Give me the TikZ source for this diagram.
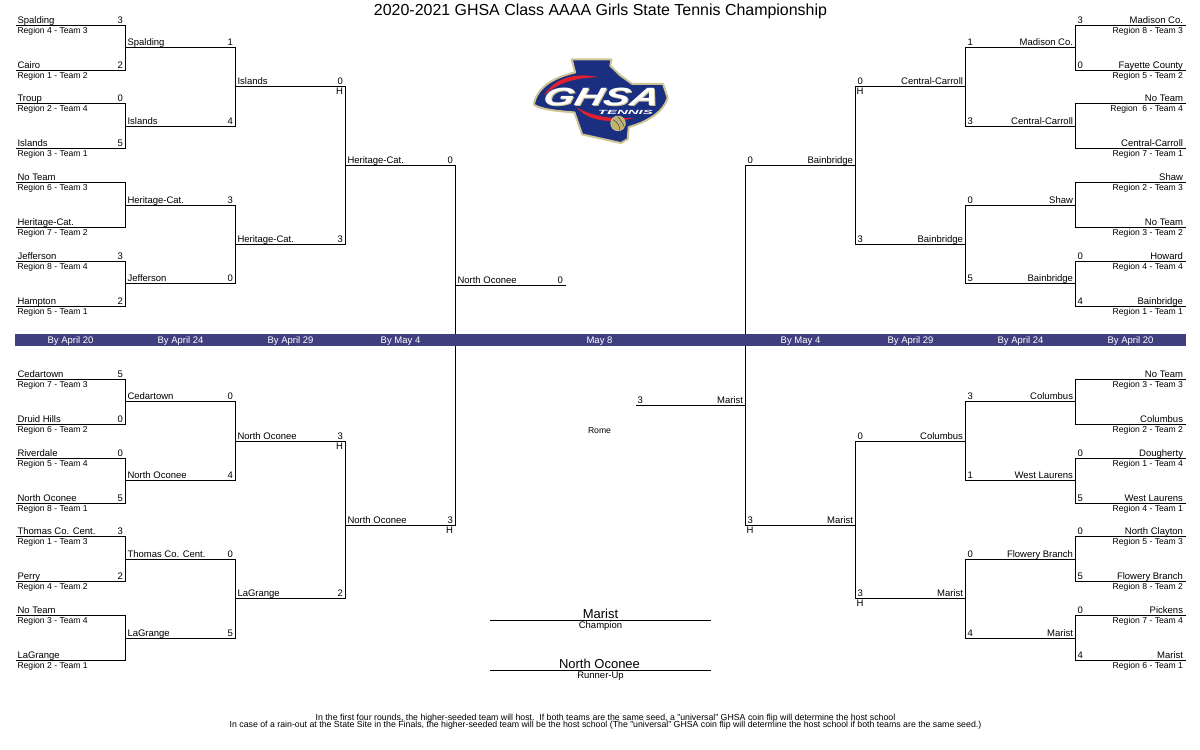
\documentclass[tikz,border=0pt]{standalone}
\usepackage{fontspec}
\setmainfont{Liberation Sans}
\usepackage{tikz}

\definecolor{barblue}{HTML}{3F3F7F}
\definecolor{logoblue}{HTML}{1B2F80}
\definecolor{logogold}{HTML}{CFC493}
\definecolor{logoball}{HTML}{C2B36B}
\definecolor{logored}{HTML}{E02030}

\tikzset{
    every node/.style={inner sep=0pt, font=\fontsize{9.5}{10}\selectfont},
    tmleft/.style={anchor=base west, xshift=1.5pt, yshift=2.5pt},
    rgleft/.style={anchor=base west, xshift=1.5pt, yshift=-7.5pt, font=\fontsize{8.6}{10}\selectfont},
    scleft/.style={anchor=base east, xshift=-2pt, yshift=2.5pt},
    tmright/.style={anchor=base east, xshift=-2pt, yshift=2.5pt},
    rgright/.style={anchor=base east, xshift=-2pt, yshift=-7.5pt, font=\fontsize{8.6}{10}\selectfont},
    scright/.style={anchor=base west, xshift=1.5pt, yshift=2.5pt},
    hostmark/.style={anchor=base},
    datetext/.style={anchor=base, text=white},
    bracket/.style={line width=1pt},
}

\begin{document}
\begin{tikzpicture}[x=1pt, y=-1pt, bracket]
\useasboundingbox (0,0) rectangle (1200,750);

\begin{scope}[shift={(0.5,0.5)}]

    \node[anchor=base, font=\fontsize{15.95}{18}\selectfont] (title) at (600,15) {2020-2021 GHSA Class AAAA Girls State Tennis Championship};

% left side, first round
\foreach \nm/\yy/\tm/\rg/\sc in {
    la1/25/Spalding/Region 4 - Team 3/3, la2/70/Cairo/Region 1 - Team 2/2,
    la3/103/Troup/Region 2 - Team 4/0, la4/148/Islands/Region 3 - Team 1/5,
    la5/182/No Team/Region 6 - Team 3/{}, la6/227/Heritage-Cat./Region 7 - Team 2/{},
    la7/261/Jefferson/Region 8 - Team 4/3, la8/306/Hampton/Region 5 - Team 1/2,
    la9/379/Cedartown/Region 7 - Team 3/5, la10/424/Druid Hills/Region 6 - Team 2/0,
    la11/458/Riverdale/Region 5 - Team 4/0, la12/503/North Oconee/Region 8 - Team 1/5,
    la13/536/Thomas Co. Cent./Region 1 - Team 3/3, la14/581/Perry/Region 4 - Team 2/2,
    la15/615/No Team/Region 3 - Team 4/{}, la16/660/LaGrange/Region 2 - Team 1/{}}{
    \coordinate (\nm) at (15,\yy);
    \node[tmleft] (\nm t) at (\nm) {\tm};
    \node[rgleft] (\nm r) at (\nm) {\rg};
    \node[scleft] (\nm s) at (125,\yy) {\sc};
}

% left side, later rounds
\foreach \nm/\xx/\yy/\tm/\sc in {
    lb1/125/47/Spalding/1, lb2/125/126/Islands/4,
    lb3/125/205/Heritage-Cat./3, lb4/125/283/Jefferson/0,
    lb5/125/401/Cedartown/0, lb6/125/480/North Oconee/4,
    lb7/125/559/Thomas Co. Cent./0, lb8/125/638/LaGrange/5,
    lc1/235/86/Islands/0, lc2/235/244/Heritage-Cat./3,
    lc3/235/441/North Oconee/3, lc4/235/598/LaGrange/2,
    ld1/345/165/Heritage-Cat./0, ld2/345/525/North Oconee/3,
    lf/455/285/North Oconee/0}{
    \coordinate (\nm) at (\xx,\yy);
    \node[tmleft, yshift=-0.7pt] (\nm t) at (\nm) {\tm};
    \node[scleft, yshift=-0.7pt] (\nm s) at (\xx+110,\yy) {\sc};
}

% right side, first round
\foreach \nm/\yy/\tm/\rg/\sc in {
    ra1/25/Madison Co./Region 8 - Team 3/3, ra2/70/Fayette County/Region 5 - Team 2/0,
    ra3/103/No Team/Region\ \ 6 - Team 4/{}, ra4/148/Central-Carroll/Region 7 - Team 1/{},
    ra5/182/Shaw/Region 2 - Team 3/{}, ra6/227/No Team/Region 3 - Team 2/{},
    ra7/261/Howard/Region 4 - Team 4/0, ra8/306/Bainbridge/Region 1 - Team 1/4,
    ra9/379/No Team/Region 3 - Team 3/{}, ra10/424/Columbus/Region 2 - Team 2/{},
    ra11/458/Dougherty/Region 1 - Team 4/0, ra12/503/West Laurens/Region 4 - Team 1/5,
    ra13/536/North Clayton/Region 5 - Team 3/0, ra14/581/Flowery Branch/Region 8 - Team 2/5,
    ra15/615/Pickens/Region 7 - Team 4/0, ra16/660/Marist/Region 6 - Team 1/4}{
    \coordinate (\nm) at (1185,\yy);
    \node[tmright] (\nm t) at (\nm) {\tm};
    \node[rgright] (\nm r) at (\nm) {\rg};
    \node[scright] (\nm s) at (1075,\yy) {\sc};
}

% right side, later rounds
\foreach \nm/\xx/\yy/\tm/\sc in {
    rb1/1075/47/Madison Co./1, rb2/1075/126/Central-Carroll/3,
    rb3/1075/205/Shaw/0, rb4/1075/283/Bainbridge/5,
    rb5/1075/401/Columbus/3, rb6/1075/480/West Laurens/1,
    rb7/1075/559/Flowery Branch/0, rb8/1075/638/Marist/4,
    rc1/965/86/Central-Carroll/0, rc2/965/244/Bainbridge/3,
    rc3/965/441/Columbus/0, rc4/965/598/Marist/3,
    rd1/855/165/Bainbridge/0, rd2/855/525/Marist/3,
    rf/745/405/Marist/3}{
    \coordinate (\nm) at (\xx,\yy);
    \node[tmright, yshift=-0.7pt] (\nm t) at (\nm) {\tm};
    \node[scright, yshift=-0.7pt] (\nm s) at (\xx-110,\yy) {\sc};
}

    \coordinate (lfe) at (565,285);
    \coordinate (rfe) at (635,405);

\foreach \p/\q/\n in {
    la1/la2/lb1, la3/la4/lb2, la5/la6/lb3, la7/la8/lb4,
    la9/la10/lb5, la11/la12/lb6, la13/la14/lb7, la15/la16/lb8,
    lb1/lb2/lc1, lb3/lb4/lc2, lb5/lb6/lc3, lb7/lb8/lc4,
    lc1/lc2/ld1, lc3/lc4/ld2, ld1/ld2/lf,
    ra1/ra2/rb1, ra3/ra4/rb2, ra5/ra6/rb3, ra7/ra8/rb4,
    ra9/ra10/rb5, ra11/ra12/rb6, ra13/ra14/rb7, ra15/ra16/rb8,
    rb1/rb2/rc1, rb3/rb4/rc2, rb5/rb6/rc3, rb7/rb8/rc4,
    rc1/rc2/rd1, rc3/rc4/rd2, rd1/rd2/rf}{
    \draw (\p) -| (\n) |- (\q);
}
    \draw (lf) -- (lfe);
    \draw (rf) -- (rfe);

% host marks
    \node[hostmark] (hl1) at (339,94) {H};
    \node[hostmark] (hl2) at (339,449) {H};
    \node[hostmark] (hl3) at (449,533) {H};
    \node[hostmark] (hr1) at (859.5,94) {H};
    \node[hostmark] (hr2) at (859.5,606) {H};
    \node[hostmark] (hr3) at (749.5,533) {H};

% date bar
    \fill[barblue] (14.5,333) rectangle (1185.5,345.5);
\foreach \xx/\dt [count=\k] in {70/By April 20, 180/By April 24, 290/By April 29, 400/By May 4,
    599/May 8, 800/By May 4, 910/By April 29, 1020/By April 24, 1130/By April 20}{
    \node[datetext] (date\k) at (\xx,342.5) {\dt};
}

    \node[anchor=base, font=\fontsize{8.6}{10}\selectfont] (site) at (599,433) {Rome};

% champion and runner-up
    \coordinate (chl) at (489.5,620);
    \coordinate (chr) at (710.5,620);
    \coordinate (rul) at (489.5,670);
    \coordinate (rur) at (710.5,670);
    \draw (chl) -- (chr);
    \draw (rul) -- (rur);
    \node[anchor=base, font=\fontsize{13}{14}\selectfont] (champ) at (600,618) {Marist};
    \node[anchor=base, font=\fontsize{9.5}{10}\selectfont] (champlab) at (600,628) {Champion};
    \node[anchor=base, font=\fontsize{13}{14}\selectfont] (runner) at (599,668) {North Oconee};
    \node[anchor=base, font=\fontsize{9.5}{10}\selectfont] (runnerlab) at (600,678) {Runner-Up};

% footer
    \node[anchor=base, font=\fontsize{8.77}{10}\selectfont] (foota) at (605,720) {In the first four rounds, the higher-seeded team will host.\ \ If both teams are the same seed, a "universal" GHSA coin flip will determine the host school};
    \node[anchor=base, font=\fontsize{8.77}{10}\selectfont] (footb) at (605,727) {In case of a rain-out at the State Site in the Finals, the higher-seeded team will be the host school (The "universal" GHSA coin flip will determine the host school if both teams are the same seed.)};

% logo
\begin{scope}[shift={(500,40)}, x=0.333pt, y=-0.333pt]
    \filldraw[fill=logoblue, draw=logogold, line width=2pt, line join=round]
        (100,193) .. controls (110,135) and (170,108) .. (224,96)
        -- (214,57) -- (333,57) -- (330,76) -- (360,105) -- (395,130) -- (488,130)
        -- (502,172) .. controls (490,215) and (440,245) .. (385,260)
        -- (382,296) -- (362,308) -- (245,282) -- (222,216)
        .. controls (170,212) and (125,208) .. (100,193) -- cycle;
    \fill[logored] (130,165) .. controls (165,110) and (225,96) .. (295,110)
        .. controls (225,112) and (175,125) .. (130,165) -- cycle;
    \fill[logored] (228,200) .. controls (270,226) and (330,238) .. (405,232)
        .. controls (330,250) and (265,244) .. (228,200) -- cycle;
    \node[anchor=center, xscale=1.6, xslant=0.15, text=logogold, font=\fontsize{25}{25}\selectfont\bfseries\itshape] (logoback) at (307,172) {GHSA};
    \node[anchor=center, xscale=1.6, xslant=0.15, text=white, font=\fontsize{25}{25}\selectfont\bfseries\itshape] (logotext) at (304,170) {GHSA};
    \node[anchor=center, xscale=2.5, text=white, font=\fontsize{6}{6}\selectfont\bfseries\itshape] (logosub) at (375,215) {TENNIS};
    \filldraw[fill=logoball, draw=logogold, line width=0.7pt] (353,249) circle (22);
    \draw[logoblue, line width=0.4pt] (338,238) .. controls (352,245) and (358,255) .. (358,270);
    \draw[logoblue, line width=0.4pt] (352,228) .. controls (362,240) and (368,250) .. (372,260);
\end{scope}

\end{scope}

\end{tikzpicture}
\end{document}
